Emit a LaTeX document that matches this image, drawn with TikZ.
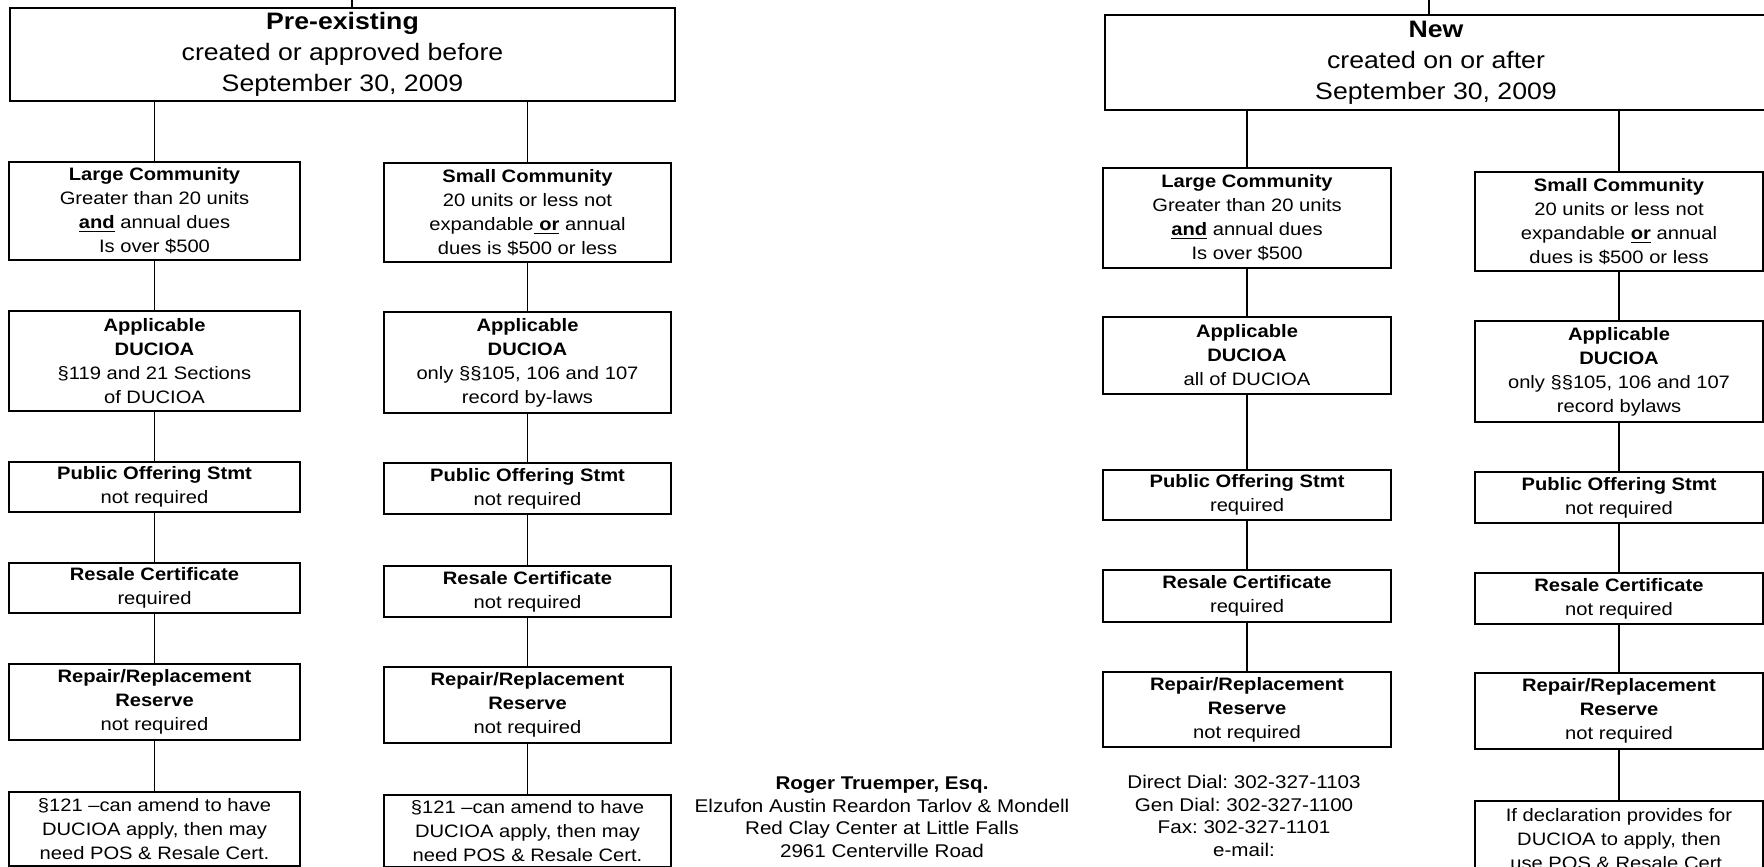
\documentclass[tikz,border=0pt]{standalone}
\usepackage{fontspec}
\setmainfont{Liberation Sans}[FakeStretch=1.12]
\frenchspacing
\tikzset{
  bx/.style={draw, line width=0.9pt, inner sep=0pt, align=center, font=\fontsize{9}{12}\selectfont},
  ttl/.style={draw, line width=0.9pt, inner sep=0pt, align=center, font=\fontsize{11.9}{15.5}\selectfont},
  freetext/.style={inner sep=0pt, align=center, font=\fontsize{9.2}{11.25}\selectfont},
  conn/.style={line width=0.7pt},
  colA/.style={bx, minimum width=145.5pt},
  colB/.style={bx, minimum width=143.5pt},
  colC/.style={bx, minimum width=144pt},
  colD/.style={bx, minimum width=144pt},
}
\begin{document}
\begin{tikzpicture}[x=0.5pt, y=-0.5pt]
\useasboundingbox (0,0) rectangle (1764,866);

% ---------- left half ----------
\node[ttl, minimum width=332.5pt, minimum height=46.5pt] (pre) at (342.5,54.5)
  {\textbf{Pre-existing}\\created or approved before\\September 30, 2009};

\node[colA, minimum height=49pt] (lgA) at (154.5,211)
  {\textbf{Large Community}\\Greater than 20 units\\\underline{\textbf{and}} annual dues\\Is over \$500};
\node[colA, minimum height=50pt] (appA) at (154.5,361)
  {\textbf{Applicable}\\\textbf{DUCIOA}\\§119 and 21 Sections\\of DUCIOA};
\node[colA, minimum height=25pt] (posA) at (154.5,487)
  {\textbf{Public Offering Stmt}\\not required};
\node[colA, minimum height=25pt] (resA) at (154.5,588)
  {\textbf{Resale Certificate}\\required};
\node[colA, minimum height=38pt] (repA) at (154.5,702)
  {\textbf{Repair/Replacement}\\\textbf{Reserve}\\not required};
\node[colA, minimum height=37pt] (secA) at (154.5,829)
  {§121 –can amend to have\\DUCIOA apply, then may\\need POS \& Resale Cert.};

\node[colB, minimum height=49.5pt] (smB) at (527.5,212.5)
  {\textbf{Small Community}\\20 units or less not\\expandable\underline{ \textbf{or}} annual\\dues is \$500 or less};
\node[colB, minimum height=50.5pt] (appB) at (527.5,362.5)
  {\textbf{Applicable}\\\textbf{DUCIOA}\\only §§105, 106 and 107\\record by-laws};
\node[colB, minimum height=25.5pt] (posB) at (527.5,488.5)
  {\textbf{Public Offering Stmt}\\not required};
\node[colB, minimum height=25.5pt] (resB) at (527.5,591.5)
  {\textbf{Resale Certificate}\\not required};
\node[colB, minimum height=38pt] (repB) at (527.5,705)
  {\textbf{Repair/Replacement}\\\textbf{Reserve}\\not required};
\node[colB, minimum height=36pt] (secB) at (527.5,831)
  {§121 –can amend to have\\DUCIOA apply, then may\\need POS \& Resale Cert.};

% ---------- middle ----------
\node[freetext] (firm) at (882,817)
  {\textbf{Roger Truemper, Esq.}\\Elzufon Austin Reardon Tarlov \& Mondell\\Red Clay Center at Little Falls\\2961 Centerville Road};

% ---------- right half ----------
\node[ttl, minimum width=331pt, minimum height=47.5pt] (new) at (1436,62.5)
  {\textbf{New}\\created on or after\\September 30, 2009};

\node[colC, minimum height=50pt] (lgC) at (1247,218)
  {\textbf{Large Community}\\Greater than 20 units\\\underline{\textbf{and}} annual dues\\Is over \$500};
\node[colC, minimum height=38.5pt] (appC) at (1247,355.5)
  {\textbf{Applicable}\\\textbf{DUCIOA}\\all of DUCIOA};
\node[colC, minimum height=25pt] (posC) at (1247,495)
  {\textbf{Public Offering Stmt}\\required};
\node[colC, minimum height=26pt] (resC) at (1247,596)
  {\textbf{Resale Certificate}\\required};
\node[colC, minimum height=37.5pt] (repC) at (1247,709.5)
  {\textbf{Repair/Replacement}\\\textbf{Reserve}\\not required};
\node[freetext] (contact) at (1244,816)
  {Direct Dial: 302-327-1103\\Gen Dial: 302-327-1100\\Fax: 302-327-1101\\e-mail:};

\node[colD, minimum height=49.5pt] (smD) at (1619,221.5)
  {\textbf{Small Community}\\20 units or less not\\expandable \underline{\textbf{or}} annual\\dues is \$500 or less};
\node[colD, minimum height=50.5pt] (appD) at (1619,371.5)
  {\textbf{Applicable}\\\textbf{DUCIOA}\\only §§105, 106 and 107\\record bylaws};
\node[colD, minimum height=25.5pt] (posD) at (1619,497.5)
  {\textbf{Public Offering Stmt}\\not required};
\node[colD, minimum height=25.5pt] (resD) at (1619,598.5)
  {\textbf{Resale Certificate}\\not required};
\node[colD, minimum height=38pt] (repD) at (1619,711)
  {\textbf{Repair/Replacement}\\\textbf{Reserve}\\not required};
\node[colD, minimum height=38pt] (ifD) at (1619,839)
  {If declaration provides for\\DUCIOA to apply, then\\use POS \& Resale Cert.};

% ---------- connectors ----------
\coordinate (preTop) at (352,0);
\coordinate (newTop) at (1429,0);
\draw[conn] (preTop) -- (preTop |- pre.north);
\draw[conn] (newTop) -- (newTop |- new.north);

\draw[conn] (lgA.north |- pre.south) -- (lgA.north);
\draw[conn] (smB.north |- pre.south) -- (smB.north);
\draw[conn] (lgC.north |- new.south) -- (lgC.north);
\draw[conn] (smD.north |- new.south) -- (smD.north);

\draw[conn] (lgA.south) -- (appA.north);
\draw[conn] (appA.south) -- (posA.north);
\draw[conn] (posA.south) -- (resA.north);
\draw[conn] (resA.south) -- (repA.north);
\draw[conn] (repA.south) -- (secA.north);

\draw[conn] (smB.south) -- (appB.north);
\draw[conn] (appB.south) -- (posB.north);
\draw[conn] (posB.south) -- (resB.north);
\draw[conn] (resB.south) -- (repB.north);
\draw[conn] (repB.south) -- (secB.north);

\draw[conn] (lgC.south) -- (appC.north);
\draw[conn] (appC.south) -- (posC.north);
\draw[conn] (posC.south) -- (resC.north);
\draw[conn] (resC.south) -- (repC.north);

\draw[conn] (smD.south) -- (appD.north);
\draw[conn] (appD.south) -- (posD.north);
\draw[conn] (posD.south) -- (resD.north);
\draw[conn] (resD.south) -- (repD.north);
\draw[conn] (repD.south) -- (ifD.north);
\end{tikzpicture}
\end{document}
